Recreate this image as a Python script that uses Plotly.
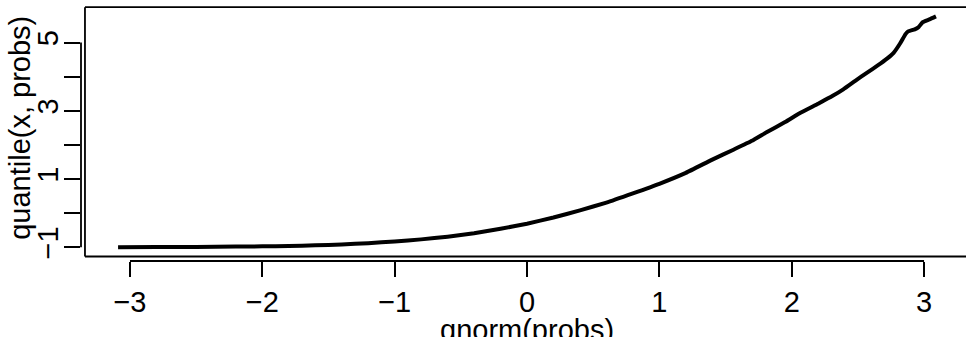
import plotly.graph_objects as go

# Normal quantiles of the probability grid and the matching sample quantiles
qnorm_probs = [-3.09, -2.8, -2.5, -2.2, -2.0, -1.8, -1.6, -1.4, -1.2, -1.0,
               -0.8, -0.6, -0.4, -0.2, 0.0, 0.2, 0.4, 0.6, 0.8, 1.0,
               1.2, 1.4, 1.56, 1.7, 1.81, 1.95, 2.06, 2.2, 2.31, 2.39,
               2.48, 2.57, 2.65, 2.72, 2.77, 2.82, 2.86, 2.88, 2.93, 2.96,
               2.99, 3.04, 3.09]
quantile_x = [-1.00, -0.995, -0.99, -0.98, -0.975, -0.965, -0.945, -0.92, -0.88, -0.83,
              -0.77, -0.69, -0.59, -0.46, -0.31, -0.13, 0.08, 0.31, 0.58, 0.86,
              1.18, 1.57, 1.86, 2.12, 2.37, 2.67, 2.93, 3.21, 3.44, 3.63,
              3.88, 4.12, 4.33, 4.53, 4.70, 4.98, 5.25, 5.33, 5.39, 5.46,
              5.60, 5.68, 5.77]

x_ticks = [-3, -2, -1, 0, 1, 2, 3]
x_tick_labels = ["\u22123", "\u22122", "\u22121", "0", "1", "2", "3"]
y_ticks = [-1, 0, 1, 2, 3, 4, 5]
y_tick_labels = ["\u22121", "", "1", "", "3", "", "5"]

FONT = "Liberation Sans, Arial, Helvetica, sans-serif"
FS = 29

# plotting region (data units) framed by the box, axes drawn just outside it
box_x0, box_y0, box_y1 = -3.340, -1.272, 6.038
x_range = [-3.370, 3.317]
y_range = [-1.404, 6.103]

fig = go.Figure()
fig.add_trace(go.Scatter(
    x=qnorm_probs, y=quantile_x, mode="lines",
    line=dict(color="black", width=4, shape="spline", smoothing=0.4),
    hoverinfo="skip", showlegend=False,
))

frame = dict(color="black", width=1.8)
shapes = [
    # box around the plotting region
    dict(type="line", xref="x", yref="y", x0=box_x0, x1=box_x0, y0=box_y0, y1=box_y1, line=frame),
    dict(type="line", xref="x", yref="y", x0=box_x0, x1=x_range[1], y0=box_y1, y1=box_y1, line=frame),
    dict(type="line", xref="x", yref="y", x0=box_x0, x1=x_range[1], y0=box_y0, y1=box_y0, line=frame),
    # axis lines spanning first to last tick
    dict(type="line", xref="x", yref="paper", x0=x_ticks[0], x1=x_ticks[-1], y0=0, y1=0, line=frame),
    dict(type="line", xref="paper", yref="y", x0=0, x1=0, y0=y_ticks[0], y1=y_ticks[-1], line=frame),
]

fig.update_layout(
    width=966, height=337,
    margin=dict(l=81, r=0, t=5, b=75.5, pad=0),
    paper_bgcolor="white", plot_bgcolor="white",
    font=dict(family=FONT, size=FS, color="black"),
    shapes=shapes,
    xaxis=dict(
        range=x_range, showgrid=False, zeroline=False, showline=False,
        tickmode="array", tickvals=x_ticks, ticktext=x_tick_labels,
        ticks="outside", ticklen=15, tickwidth=1.8, tickcolor="black",
        ticklabelstandoff=0,
        tickfont=dict(family=FONT, size=FS, color="black"),
    ),
    yaxis=dict(
        range=y_range, showgrid=False, zeroline=False, showline=False,
        tickmode="array", tickvals=y_ticks, ticktext=y_tick_labels,
        ticks="outside", ticklen=16, tickwidth=1.8, tickcolor="black",
        tickangle=-90, ticklabelstandoff=-6,
        tickfont=dict(family=FONT, size=FS, color="black"),
    ),
    annotations=[
        dict(text="qnorm(probs)", xref="x", yref="paper", x=0, y=-0.201,
             xanchor="center", yanchor="top", showarrow=False,
             font=dict(family=FONT, size=FS, color="black")),
        dict(text="quantile(x, probs)", xref="paper", yref="paper", x=-0.069, y=0.52,
             xanchor="center", yanchor="middle", textangle=-90, showarrow=False,
             font=dict(family=FONT, size=FS, color="black")),
    ],
)

fig.write_html("out.html")
